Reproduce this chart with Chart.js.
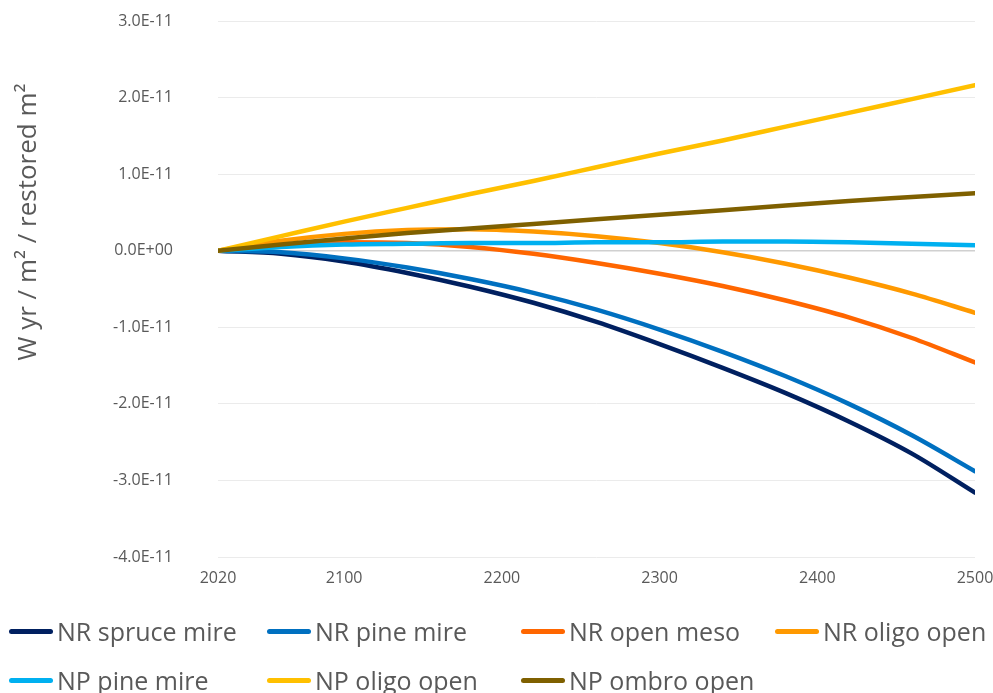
<!DOCTYPE html>
<html>
<head>
<meta charset="utf-8">
<script src="https://cdn.jsdelivr.net/npm/chart.js@4/dist/chart.umd.min.js"></script>
<style>
  html, body { margin: 0; padding: 0; background: #ffffff; }
  #wrap { position: relative; width: 993px; height: 693px; overflow: hidden; }
  #chart { position: absolute; left: 0; top: 0; }
  #legend { position: absolute; left: 0; top: 0; width: 993px; height: 693px; pointer-events: none; }
  .item { position: absolute; height: 30px; display: flex; align-items: center;
          font-family: "Open Sans", sans-serif; font-size: 25px; color: #595959; white-space: nowrap; }
  .swatch { width: 44px; height: 5px; border-radius: 3px; margin-right: 4px; }
</style>
</head>
<body>
<div id="wrap">
  <canvas id="chart" width="993" height="605"></canvas>
  <div id="legend"></div>
</div>
<script>
// Years sampled along each trajectory
const years = [2020, 2060, 2100, 2140, 2180, 2220, 2260, 2300, 2340, 2380, 2420, 2460, 2500];

// Radiative forcing per restored area (W yr / m² / restored m²)
const nrSpruceMire = [0, -0.04e-11, -0.14e-11, -0.29e-11, -0.47e-11, -0.68e-11, -0.93e-11, -1.22e-11, -1.53e-11, -1.86e-11, -2.23e-11, -2.65e-11, -3.16e-11];
const nrPineMire   = [0, -0.02e-11, -0.10e-11, -0.22e-11, -0.37e-11, -0.55e-11, -0.77e-11, -1.03e-11, -1.32e-11, -1.64e-11, -2.00e-11, -2.41e-11, -2.88e-11];
const nrOpenMeso   = [0, 0.07e-11, 0.11e-11, 0.10e-11, 0.05e-11, -0.04e-11, -0.16e-11, -0.30e-11, -0.46e-11, -0.65e-11, -0.87e-11, -1.14e-11, -1.46e-11];
const nrOligoOpen  = [0, 0.13e-11, 0.22e-11, 0.27e-11, 0.28e-11, 0.25e-11, 0.19e-11, 0.10e-11, -0.02e-11, -0.17e-11, -0.35e-11, -0.56e-11, -0.81e-11];
const npPineMire   = [0, 0.05e-11, 0.08e-11, 0.09e-11, 0.10e-11, 0.10e-11, 0.11e-11, 0.11e-11, 0.12e-11, 0.12e-11, 0.11e-11, 0.09e-11, 0.07e-11];
const npOligoOpen  = [0, 0.19e-11, 0.38e-11, 0.56e-11, 0.74e-11, 0.91e-11, 1.09e-11, 1.27e-11, 1.44e-11, 1.62e-11, 1.80e-11, 1.98e-11, 2.16e-11];
const npOmbroOpen  = [0, 0.08e-11, 0.16e-11, 0.23e-11, 0.29e-11, 0.35e-11, 0.41e-11, 0.47e-11, 0.53e-11, 0.59e-11, 0.65e-11, 0.70e-11, 0.75e-11];

const seriesNames  = ['NR spruce mire', 'NR pine mire', 'NR open meso', 'NR oligo open', 'NP pine mire', 'NP oligo open', 'NP ombro open'];
const seriesValues = [nrSpruceMire, nrPineMire, nrOpenMeso, nrOligoOpen, npPineMire, npOligoOpen, npOmbroOpen];
const seriesColors = ['#002060', '#0070C0', '#FF6600', '#FF9900', '#00B0F0', '#FFC000', '#7F6000'];

// Axis ticks
const xTicks = [2020, 2100, 2200, 2300, 2400, 2500];
const yTicks = [-4e-11, -3e-11, -2e-11, -1e-11, 0, 1e-11, 2e-11, 3e-11];
const yTickLabels = ['-4.0E-11', '-3.0E-11', '-2.0E-11', '-1.0E-11', '0.0E+00', '1.0E-11', '2.0E-11', '3.0E-11'];
const yTitle = 'W yr / m\u00B2 / restored m\u00B2';

const textColor = '#595959';
const fontFamily = '"Open Sans", sans-serif';

const datasets = seriesNames.map((name, i) => ({
  label: name,
  data: years.map((yr, j) => ({ x: yr, y: seriesValues[i][j] })),
  borderColor: seriesColors[i],
  backgroundColor: seriesColors[i],
  borderWidth: 4.5,
  pointRadius: 0,
  fill: false,
  cubicInterpolationMode: 'monotone',
  borderCapStyle: 'round',
  order: seriesNames.length - i   // later series drawn on top
}));

// Rotated value-axis title, placed in the left margin
const axisTitlePlugin = {
  id: 'axisTitle',
  afterDraw(chart) {
    const ctx = chart.ctx;
    ctx.save();
    ctx.translate(29, 222);
    ctx.rotate(-Math.PI / 2);
    ctx.font = '26px ' + fontFamily;
    ctx.fillStyle = textColor;
    ctx.textAlign = 'center';
    ctx.textBaseline = 'middle';
    ctx.fillText(yTitle, 0, 0);
    ctx.restore();
  }
};

new Chart(document.getElementById('chart'), {
  type: 'line',
  data: { datasets },
  plugins: [axisTitlePlugin],
  options: {
    responsive: false,
    animation: false,
    layout: { padding: { top: 21, right: 18, left: 0, bottom: 0 } },
    plugins: { legend: { display: false }, tooltip: { enabled: false } },
    scales: {
      x: {
        type: 'linear',
        min: 2020,
        max: 2500,
        afterBuildTicks: s => { s.ticks = xTicks.map(v => ({ value: v })); },
        afterFit: s => { s.height = 48; s.paddingLeft = 0; s.paddingRight = 0; },
        grid: { display: false, drawTicks: false },
        border: { display: false },
        ticks: { padding: 12, color: textColor, font: { family: fontFamily, size: 16 }, maxRotation: 0,
                 callback: v => String(v) }
      },
      y: {
        min: -4e-11,
        max: 3e-11,
        afterBuildTicks: s => { s.ticks = yTicks.map(v => ({ value: v })); },
        afterFit: s => { s.width = 218; s.paddingTop = 0; s.paddingBottom = 0; },
        grid: {
          drawTicks: false,
          color: ctx => (ctx.tick && ctx.tick.value === 0) ? '#D0D0D0' : '#EBEBEB',
          lineWidth: ctx => (ctx.tick && ctx.tick.value === 0) ? 1.5 : 1
        },
        border: { display: false },
        ticks: {
          padding: 45,
          color: textColor,
          font: { family: fontFamily, size: 16 },
          callback: v => {
            const k = yTicks.findIndex(t => Math.abs(t - v) < 1e-14);
            return k >= 0 ? yTickLabels[k] : '';
          }
        }
      }
    }
  }
});

// Legend laid out in fixed columns below the plot
const legendEl = document.getElementById('legend');
const colX = [9, 267, 521, 775];
const rowY = [631, 680];
seriesNames.forEach((name, i) => {
  const item = document.createElement('div');
  item.className = 'item';
  item.style.left = colX[i % 4] + 'px';
  item.style.top = (rowY[Math.floor(i / 4)] - 15) + 'px';
  const sw = document.createElement('div');
  sw.className = 'swatch';
  sw.style.background = seriesColors[i];
  const tx = document.createElement('span');
  tx.textContent = name;
  item.appendChild(sw);
  item.appendChild(tx);
  legendEl.appendChild(item);
});
</script>
</body>
</html>
